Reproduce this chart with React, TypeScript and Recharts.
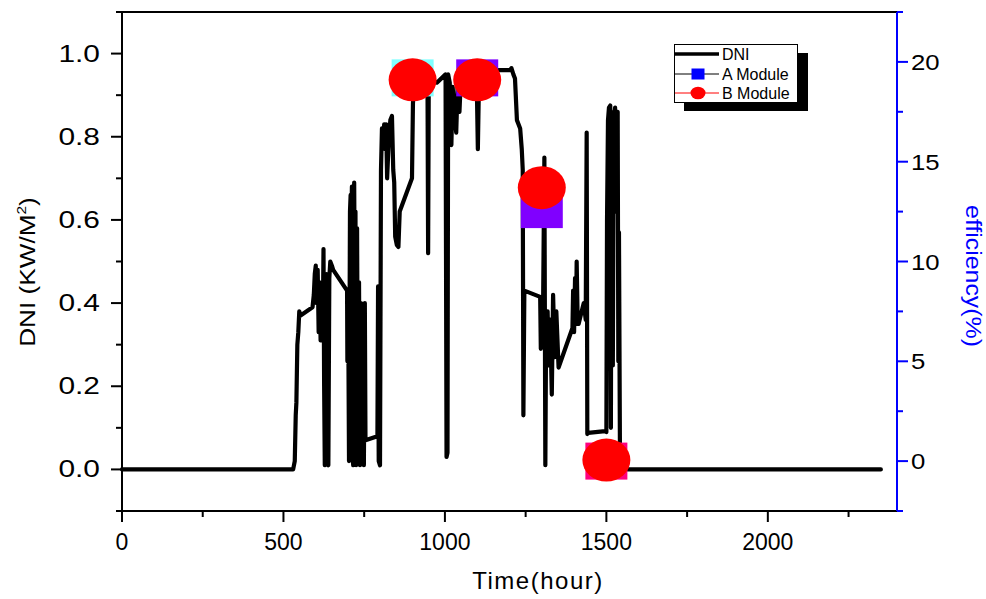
import React from 'react';
import { ComposedChart, Line, Scatter, XAxis, YAxis, ReferenceLine } from 'recharts';

// DNI trace (time in hours, DNI in kW/m2)
const dniTime = [
  0, 530, 535, 538, 540, 543, 546, 549, 553, 590, 594, 597, 600, 603, 606, 609, 612, 615, 619, 622,
  624, 626, 628, 631, 633, 636, 639, 642, 645, 650, 654, 697, 698, 701, 703, 706, 708, 710, 712, 714,
  716, 719, 721, 723, 725, 728, 731, 734, 737, 740, 743, 746, 749, 752, 754, 791, 793, 795, 799, 802,
  805, 808, 812, 815, 818, 821, 826, 831, 836, 840, 843, 846, 851, 856, 860, 898, 901, 905, 925, 946,
  948, 950, 975, 1002, 1005, 1008, 1010, 1015, 1020, 1024, 1030, 1035, 1040, 1045, 1050, 1060, 1098, 1102, 1106, 1160,
  1202, 1206, 1212, 1217, 1223, 1233, 1238, 1241, 1243, 1246, 1295, 1297, 1300, 1303, 1308, 1311, 1313, 1318, 1322, 1326,
  1331, 1335, 1340, 1345, 1352, 1395, 1397, 1400, 1403, 1406, 1408, 1411, 1414, 1430, 1436, 1439, 1441, 1444, 1496, 1500,
  1502, 1505, 1508, 1512, 1514, 1516, 1518, 1520, 1523, 1527, 1530, 1533, 1535, 1537, 1539, 1542, 1548, 2350,
];
const dniValue = [
  0, 0, 0.02, 0.13, 0.16, 0.3, 0.33, 0.38, 0.37, 0.39, 0.42, 0.47, 0.49, 0.4, 0.48, 0.33, 0.45, 0.31, 0.38, 0.36,
  0.53, 0.2, 0.01, 0.03, 0.47, 0.02, 0.01, 0.46, 0.5, 0.49, 0.48, 0.43, 0.26, 0.31, 0.02, 0.62, 0.66, 0.58, 0.68, 0.03,
  0.01, 0.69, 0.4, 0.62, 0.01, 0.58, 0.02, 0.45, 0.01, 0.4, 0.02, 0.38, 0.01, 0.4, 0.07, 0.08, 0.44, 0.02, 0.01, 0.72,
  0.82, 0.79, 0.83, 0.77, 0.83, 0.7, 0.79, 0.84, 0.85, 0.72, 0.69, 0.56, 0.54, 0.535, 0.62, 0.7, 0.88, 0.93, 0.94, 0.95,
  0.52, 0.94, 0.93, 0.95, 0.03, 0.04, 0.95, 0.93, 0.78, 0.92, 0.85, 0.81, 0.94, 0.86, 0.95, 0.96, 0.96, 0.77, 0.96, 0.96,
  0.96, 0.965, 0.95, 0.94, 0.84, 0.82, 0.77, 0.72, 0.13, 0.43, 0.415, 0.29, 0.4, 0.3, 0.75, 0.01, 0.29, 0.38, 0.25, 0.36,
  0.18, 0.42, 0.27, 0.38, 0.245, 0.34, 0.43, 0.33, 0.46, 0.35, 0.5, 0.36, 0.35, 0.4, 0.36, 0.81, 0.085, 0.088, 0.092, 0.09,
  0.6, 0.84, 0.87, 0.875, 0.1, 0.86, 0.7, 0.25, 0.84, 0.87, 0.62, 0.85, 0.86, 0.26, 0.57, 0.05, 0, 0,
];

// module efficiency (%)
const moduleTime = [900, 1100, 1300, 1500];
const moduleA = [19.2, 19.2, 12.6, 0];
const moduleB = [19.1, 19.1, 13.7, 0.05];

const xTicks = [0, 250, 500, 750, 1000, 1250, 1500, 1750, 2000, 2250];
const leftTicks = [-0.1, 0, 0.1, 0.2, 0.3, 0.4, 0.5, 0.6, 0.7, 0.8, 0.9, 1.0, 1.1];
const rightTicks = [-2.5, 0, 2.5, 5, 7.5, 10, 12.5, 15, 17.5, 20, 22.5];

const squareFill = ['#80FFFF', '#8000FF', '#8000FF', '#FF0080'];
const FONT = '"Liberation Sans", Arial, sans-serif';

const dniData = dniTime.map((t, i) => ({ t, dni: dniValue[i] }));
const aData = moduleTime.map((t, i) => ({ t, v: moduleA[i] }));
const bData = moduleTime.map((t, i) => ({ t, v: moduleB[i] }));

const XTick = ({ x, y, payload }: any) => {
  const major = payload.value % 500 === 0;
  return (
    <g>
      <line x1={x} x2={x} y1={y} y2={y + (major ? 11 : 6)} stroke="#000" strokeWidth={2} />
      {major && (
        <text x={x} y={y + 39} textAnchor="middle" fontSize={23} fontFamily={FONT} fill="#000">
          {payload.value}
        </text>
      )}
    </g>
  );
};

const LeftTick = ({ x, y, payload }: any) => {
  const v = payload.value;
  const k = Math.round(v * 10);
  const major = k % 2 === 0 && k >= 0 && k <= 10;
  return (
    <g>
      <line x1={x - (major ? 11 : 6)} x2={x} y1={y} y2={y} stroke="#000" strokeWidth={2} />
      {major && (
        <text transform={`translate(${x - 22},${y + 8}) scale(1.3,1)`} textAnchor="end" fontSize={23} fontFamily={FONT} fill="#000">
          {v.toFixed(1)}
        </text>
      )}
    </g>
  );
};

const RightTick = ({ x, y, payload }: any) => {
  const v = payload.value;
  const major = v % 5 === 0 && v >= 0 && v <= 20;
  return (
    <g>
      <line x1={x} x2={x + (major ? 11 : 6)} y1={y} y2={y} stroke="#0000FF" strokeWidth={2} />
      {major && (
        <text transform={`translate(${x + 14},${y + 8}) scale(1.12,1)`} textAnchor="start" fontSize={23} fontFamily={FONT} fill="#000">
          {v}
        </text>
      )}
    </g>
  );
};

const SquareShape = ({ cx, cy, payload }: any) => (
  <rect x={cx - 21} y={cy - 18.5} width={42} height={37} fill={squareFill[moduleTime.indexOf(payload.t)]} />
);

const CircleShape = ({ cx, cy }: any) => <ellipse cx={cx} cy={cy} rx={24} ry={21.5} fill="#FF0000" />;

const Overlay = () => (
  <svg width={986} height={599} style={{ position: 'absolute', left: 0, top: 0, pointerEvents: 'none' }}>
    <text transform="translate(35,272) rotate(-90) scale(1.19,1)" textAnchor="middle" fontSize={22} fontFamily={FONT} fill="#000">
      DNI (KW/M<tspan dy={-9} fontSize={13}>2</tspan><tspan dy={9}>)</tspan>
    </text>
    <text transform="translate(966,276) rotate(90) scale(1.13,1)" textAnchor="middle" fontSize={22} fontFamily={FONT} fill="#0000FF">
      efficiency(%)
    </text>
    <text x={538} y={589} textAnchor="middle" fontSize={24} letterSpacing={1.5} fontFamily={FONT} fill="#000">
      Time(hour)
    </text>

    <rect x={684} y={53} width={124} height={58} fill="#000" />
    <rect x={674.5} y={44.5} width={123} height={58} fill="#fff" stroke="#000" strokeWidth={1} />
    <line x1={675} x2={719} y1={54} y2={54} stroke="#000" strokeWidth={3.5} />
    <text x={722} y={59.5} fontSize={16} fontFamily={FONT} fill="#000">DNI</text>
    <line x1={675} x2={719} y1={74} y2={74} stroke="#000" strokeWidth={1} />
    <rect x={691.5} y={68.5} width={13} height={11} fill="#0000FF" />
    <text x={722} y={79.5} fontSize={16} fontFamily={FONT} fill="#000">A Module</text>
    <line x1={675} x2={719} y1={93} y2={93} stroke="#FF0000" strokeWidth={1} />
    <ellipse cx={698} cy={93} rx={7.5} ry={6.3} fill="#FF0000" />
    <text x={722} y={98.5} fontSize={16} fontFamily={FONT} fill="#000">B Module</text>
  </svg>
);

export default function App() {
  return (
    <div style={{ position: 'absolute', left: 0, top: 0, width: 986, height: 599, background: '#fff' }}>
      <ComposedChart width={986} height={599} margin={{ top: 12, right: 0, bottom: 0, left: 0 }}>
        <XAxis
          dataKey="t"
          type="number"
          domain={[0, 2400]}
          ticks={xTicks}
          height={88}
          tickSize={0}
          tickMargin={0}
          tickLine={false}
          tick={<XTick />}
          axisLine={{ stroke: '#000', strokeWidth: 2 }}
        />
        <YAxis
          yAxisId="left"
          type="number"
          domain={[-0.1, 1.1]}
          ticks={leftTicks}
          width={122}
          tickSize={0}
          tickMargin={0}
          tickLine={false}
          tick={<LeftTick />}
          axisLine={{ stroke: '#000', strokeWidth: 2 }}
        />
        <YAxis
          yAxisId="right"
          orientation="right"
          type="number"
          domain={[-2.5, 22.5]}
          ticks={rightTicks}
          width={89}
          tickSize={0}
          tickMargin={0}
          tickLine={false}
          tick={<RightTick />}
          axisLine={{ stroke: '#0000FF', strokeWidth: 2 }}
        />
        <ReferenceLine yAxisId="left" y={1.1} stroke="#000" strokeWidth={2} />
        <Line
          yAxisId="left"
          data={dniData}
          dataKey="dni"
          type="linear"
          stroke="#000"
          strokeWidth={4.2}
          strokeLinejoin="round"
          strokeLinecap="round"
          dot={false}
          activeDot={false}
          isAnimationActive={false}
        />
        <Scatter yAxisId="right" data={aData} dataKey="v" shape={<SquareShape />} isAnimationActive={false} />
        <Scatter yAxisId="right" data={bData} dataKey="v" shape={<CircleShape />} isAnimationActive={false} />
      </ComposedChart>
      <Overlay />
    </div>
  );
}
